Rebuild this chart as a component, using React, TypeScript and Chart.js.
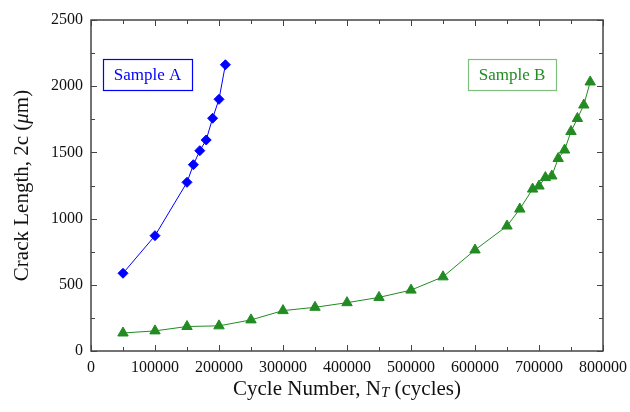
import React, { useEffect, useRef } from "react";
import { Chart, registerables } from "chart.js";

Chart.register(...registerables);

// Sample A (blue diamonds)
const sampleACycles = [50000, 100000, 150000, 160000, 170000, 180000, 190000, 200000, 210000];
const sampleALength = [587, 871, 1274, 1407, 1513, 1594, 1758, 1901, 2162];

// Sample B (green triangles)
const sampleBCycles = [
  50000, 100000, 150000, 200000, 250000, 300000, 350000, 400000, 450000, 500000,
  550000, 600000, 650000, 670000, 690000, 700000, 710000, 720000, 730000, 740000,
  750000, 760000, 770000, 780000,
];
const sampleBLength = [
  136, 152, 185, 190, 235, 305, 330, 365, 405, 460,
  560, 763, 944, 1072, 1223, 1246, 1310, 1322, 1454, 1518,
  1658, 1756, 1858, 2032,
];

const xTickValues = [0, 100000, 200000, 300000, 400000, 500000, 600000, 700000, 800000];
const yTickValues = [0, 500, 1000, 1500, 2000, 2500];

const FONT = "'Liberation Serif', 'Times New Roman', serif";
const BLUE = "#0000ff";
const GREEN = "#228b22";

type Part = { text: string; font: string; dy?: number };

function drawRich(ctx: CanvasRenderingContext2D, parts: Part[], cx: number, cy: number) {
  let total = 0;
  const widths = parts.map((p) => {
    ctx.font = p.font;
    const w = ctx.measureText(p.text).width;
    total += w;
    return w;
  });
  let x = cx - total / 2;
  ctx.textBaseline = "middle";
  ctx.textAlign = "left";
  parts.forEach((p, i) => {
    ctx.font = p.font;
    ctx.fillText(p.text, x, cy + (p.dy || 0));
    x += widths[i];
  });
}

const decorPlugin = {
  id: "decor",
  afterDraw(chart: any) {
    const { ctx, chartArea: a, scales } = chart;
    const xs = scales.x;
    const ys = scales.y;
    ctx.save();
    // frame
    ctx.strokeStyle = "#444";
    ctx.lineWidth = 1.5;
    ctx.strokeRect(a.left, a.top, a.right - a.left, a.bottom - a.top);
    // ticks inward on all sides
    ctx.lineWidth = 1;
    ctx.beginPath();
    for (let v = 0; v <= 800000; v += 50000) {
      const px = Math.round(xs.getPixelForValue(v)) + 0.5;
      const len = v % 100000 === 0 ? 6 : 4;
      ctx.moveTo(px, a.bottom);
      ctx.lineTo(px, a.bottom - len);
      ctx.moveTo(px, a.top);
      ctx.lineTo(px, a.top + len);
    }
    for (let v = 0; v <= 2500; v += 250) {
      const py = Math.round(ys.getPixelForValue(v)) + 0.5;
      const len = v % 500 === 0 ? 6 : 4;
      ctx.moveTo(a.left, py);
      ctx.lineTo(a.left + len, py);
      ctx.moveTo(a.right, py);
      ctx.lineTo(a.right - len, py);
    }
    ctx.stroke();

    // axis titles
    ctx.fillStyle = "#111";
    const f = `21px ${FONT}`;
    const fi = `italic 15px ${FONT}`;
    drawRich(
      ctx,
      [
        { text: "Cycle Number, N", font: f },
        { text: "T", font: fi, dy: 4 },
        { text: " (cycles)", font: f },
      ],
      (a.left + a.right) / 2,
      389
    );
    ctx.save();
    ctx.translate(22, (a.top + a.bottom) / 2);
    ctx.rotate(-Math.PI / 2);
    drawRich(
      ctx,
      [
        { text: "Crack Length, 2c (", font: f },
        { text: "μ", font: `italic 21px ${FONT}` },
        { text: "m)", font: f },
      ],
      0,
      0
    );
    ctx.restore();

    // sample labels
    const boxes = [
      { label: "Sample A", x0: 103, y0: 59, x1: 192, y1: 90, color: BLUE, border: BLUE },
      { label: "Sample B", x0: 468, y0: 59, x1: 556, y1: 90, color: GREEN, border: "#7fbf7f" },
    ];
    boxes.forEach((b) => {
      ctx.fillStyle = "#fff";
      ctx.fillRect(b.x0, b.y0, b.x1 - b.x0, b.y1 - b.y0);
      ctx.strokeStyle = b.border;
      ctx.lineWidth = 1.2;
      ctx.strokeRect(b.x0 + 0.5, b.y0 + 0.5, b.x1 - b.x0, b.y1 - b.y0);
      ctx.fillStyle = b.color;
      ctx.font = `17px ${FONT}`;
      ctx.textAlign = "center";
      ctx.textBaseline = "middle";
      ctx.fillText(b.label, (b.x0 + b.x1) / 2, (b.y0 + b.y1) / 2 + 1);
    });
    ctx.restore();
  },
};

export default function App() {
  const canvasRef = useRef<HTMLCanvasElement | null>(null);

  useEffect(() => {
    if (!canvasRef.current) return;
    const chart = new Chart(canvasRef.current, {
      type: "scatter",
      data: {
        datasets: [
          {
            label: "Sample A",
            data: sampleACycles.map((x, i) => ({ x, y: sampleALength[i] })),
            showLine: true,
            borderColor: BLUE,
            backgroundColor: BLUE,
            borderWidth: 1,
            pointStyle: "rectRot",
            pointRadius: 5,
            pointBorderWidth: 1,
            pointBorderColor: BLUE,
            pointBackgroundColor: BLUE,
          },
          {
            label: "Sample B",
            data: sampleBCycles.map((x, i) => ({ x, y: sampleBLength[i] })),
            showLine: true,
            borderColor: GREEN,
            backgroundColor: GREEN,
            borderWidth: 1,
            pointStyle: "triangle",
            pointRadius: 6,
            pointBorderWidth: 1,
            pointBorderColor: GREEN,
            pointBackgroundColor: GREEN,
          },
        ],
      },
      options: {
        animation: false,
        responsive: true,
        maintainAspectRatio: false,
        layout: { padding: { left: 0, top: 20, right: 27, bottom: 0 } },
        plugins: {
          legend: { display: false },
          tooltip: { enabled: false },
        },
        scales: {
          x: {
            type: "linear",
            min: 0,
            max: 800000,
            afterBuildTicks: (s: any) => {
              s.ticks = xTickValues.map((v) => ({ value: v }));
            },
            afterFit: (s: any) => {
              s.height = 61;
              s.paddingLeft = 0;
              s.paddingRight = 0;
            },
            grid: { display: false, drawTicks: false },
            border: { display: false },
            ticks: {
              padding: 7,
              color: "#111",
              font: { family: FONT, size: 16 },
              maxRotation: 0,
              autoSkip: false,
              callback: (v: any) => String(v),
            },
          },
          y: {
            type: "linear",
            min: 0,
            max: 2500,
            afterBuildTicks: (s: any) => {
              s.ticks = yTickValues.map((v) => ({ value: v }));
            },
            afterFit: (s: any) => {
              s.width = 91;
              s.paddingTop = 0;
              s.paddingBottom = 0;
            },
            grid: { display: false, drawTicks: false },
            border: { display: false },
            ticks: {
              padding: 8,
              color: "#111",
              font: { family: FONT, size: 16 },
              autoSkip: false,
              callback: (v: any) => String(v),
            },
          },
        },
      },
      plugins: [decorPlugin],
    } as any);
    return () => chart.destroy();
  }, []);

  return (
    <div style={{ position: "fixed", left: 0, top: 0, width: 630, height: 412, background: "#fff" }}>
      <canvas ref={canvasRef} />
    </div>
  );
}
